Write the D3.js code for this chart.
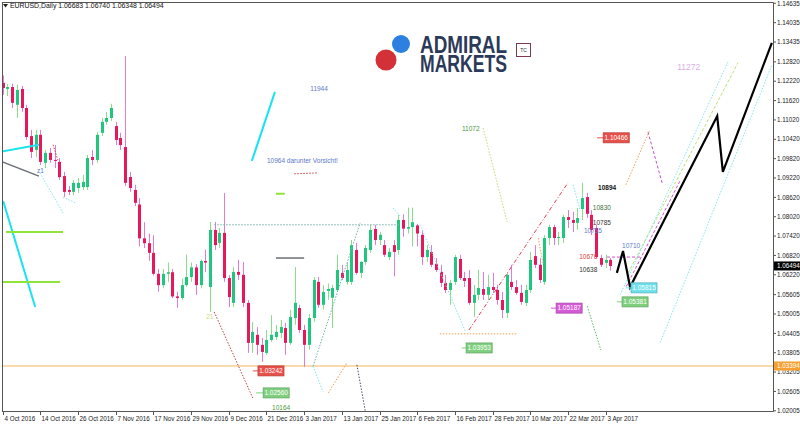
<!DOCTYPE html>
<html><head><meta charset="utf-8">
<script src="https://cdn.jsdelivr.net/npm/d3@7/dist/d3.min.js"></script>
<style>
body{margin:0;background:#fff}
svg{display:block}
text{font-family:"Liberation Sans",Arial,sans-serif}
</style>
</head><body>
<svg id="c" width="800" height="426"></svg>
<script>
// ---------- DATA ----------
const symbolTitle = "EURUSD,Daily  1.06683 1.06740 1.06348 1.06494";
const barOpen = [1.1217,1.1198,1.1204,1.1149,1.1198,1.1139,1.1052,1.1009,1.1056,1.0969,1.1000,1.0978,1.0972,1.0928,1.0885,1.0879,1.0891,1.0894,1.0894,1.0987,1.0978,1.1062,1.1096,1.1108,1.1083,1.1046,1.1018,1.0925,1.0885,1.0840,1.0735,1.0720,1.0690,1.0625,1.0590,1.0625,1.0630,1.0555,1.0550,1.0590,1.0615,1.0645,1.0590,1.0665,1.0584,1.0761,1.0721,1.0752,1.0612,1.0535,1.0631,1.0622,1.0535,1.0411,1.0436,1.0405,1.0380,1.0420,1.0429,1.0442,1.0457,1.0411,1.0488,1.0519,1.0451,1.0405,1.0488,1.0600,1.0529,1.0572,1.0551,1.0575,1.0628,1.0600,1.0600,1.0699,1.0628,1.0662,1.0699,1.0764,1.0730,1.0714,1.0677,1.0714,1.0699,1.0792,1.0765,1.0770,1.0775,1.0746,1.0677,1.0693,1.0656,1.0631,1.0597,1.0575,1.0600,1.0671,1.0612,1.0612,1.0535,1.0560,1.0578,1.0560,1.0584,1.0575,1.0544,1.0504,1.0600,1.0584,1.0566,1.0535,1.0575,1.0680,1.0653,1.0600,1.0736,1.0770,1.0736,1.0736,1.0801,1.0792,1.0783,1.0826,1.0863,1.0808,1.0767,1.0674,1.0659,1.06683];
const barHigh = [1.1240,1.1214,1.1214,1.1211,1.1207,1.1149,1.1071,1.1071,1.1071,1.1009,1.1015,1.1024,1.0984,1.0941,1.0897,1.0916,1.0922,1.0932,1.0994,1.1009,1.1065,1.1108,1.1127,1.1152,1.1096,1.1062,1.1300,1.0941,1.0901,1.0860,1.0785,1.0750,1.0745,1.0640,1.0640,1.0660,1.0640,1.0570,1.0610,1.0685,1.0660,1.0655,1.0670,1.0700,1.0786,1.0786,1.0767,1.0876,1.0621,1.0646,1.0668,1.0662,1.0544,1.0476,1.0460,1.0426,1.0451,1.0497,1.0467,1.0482,1.0473,1.0513,1.0646,1.0529,1.0467,1.0500,1.0615,1.0615,1.0590,1.0595,1.0591,1.0684,1.0653,1.0659,1.0730,1.0721,1.0665,1.0715,1.0777,1.0777,1.0755,1.0730,1.0705,1.0730,1.0808,1.0810,1.0830,1.0830,1.0780,1.0761,1.0714,1.0714,1.0674,1.0653,1.0622,1.0606,1.0684,1.0684,1.0631,1.0637,1.0591,1.0637,1.0631,1.0622,1.0628,1.0591,1.0569,1.0628,1.0653,1.0606,1.0591,1.0591,1.0693,1.0714,1.0674,1.0745,1.0777,1.0777,1.0755,1.0808,1.0823,1.0817,1.0829,1.0907,1.0876,1.0823,1.0777,1.0684,1.0684,1.06740];
const barLow = [1.1180,1.1176,1.1139,1.1108,1.1127,1.1040,1.0984,1.0987,1.0962,1.0953,1.0969,1.0953,1.0916,1.0863,1.0869,1.0869,1.0876,1.0885,1.0885,1.0962,1.0969,1.1052,1.1087,1.1099,1.1024,1.1009,1.0897,1.0879,1.0835,1.0710,1.0705,1.0665,1.0620,1.0570,1.0580,1.0600,1.0550,1.0520,1.0545,1.0585,1.0600,1.0560,1.0580,1.0630,1.0507,1.0699,1.0705,1.0600,1.0522,1.0522,1.0606,1.0522,1.0380,1.0380,1.0374,1.0352,1.0374,1.0414,1.0420,1.0426,1.0374,1.0405,1.0467,1.0442,1.0336,1.0390,1.0476,1.0520,1.0515,1.0545,1.0457,1.0569,1.0606,1.0591,1.0591,1.0622,1.0612,1.0653,1.0690,1.0714,1.0714,1.0677,1.0668,1.0617,1.0684,1.0740,1.0750,1.0710,1.0710,1.0653,1.0662,1.0646,1.0631,1.0584,1.0566,1.0529,1.0591,1.0606,1.0584,1.0529,1.0491,1.0544,1.0544,1.0544,1.0566,1.0529,1.0488,1.0488,1.0575,1.0560,1.0529,1.0525,1.0566,1.0643,1.0597,1.0591,1.0714,1.0714,1.0714,1.0721,1.0767,1.0755,1.0761,1.0792,1.0798,1.0745,1.0674,1.0646,1.0643,1.06348];
const barClose = [1.1201,1.1204,1.1155,1.1195,1.1139,1.1049,1.1003,1.1056,1.0972,1.1000,1.0978,1.0975,1.0925,1.0879,1.0879,1.0907,1.0907,1.0910,1.0984,1.0978,1.1056,1.1096,1.1108,1.1139,1.1040,1.1024,1.0907,1.0891,1.0845,1.0735,1.0720,1.0690,1.0625,1.0590,1.0625,1.0630,1.0555,1.0550,1.0590,1.0615,1.0645,1.0590,1.0665,1.0660,1.0761,1.0714,1.0752,1.0612,1.0553,1.0631,1.0622,1.0535,1.0411,1.0445,1.0405,1.0383,1.0420,1.0436,1.0445,1.0460,1.0411,1.0491,1.0535,1.0451,1.0405,1.0488,1.0606,1.0529,1.0569,1.0578,1.0581,1.0637,1.0612,1.0637,1.0714,1.0628,1.0662,1.0705,1.0761,1.0730,1.0746,1.0684,1.0693,1.0693,1.0792,1.0765,1.0770,1.0785,1.0750,1.0677,1.0699,1.0653,1.0637,1.0597,1.0575,1.0597,1.0677,1.0612,1.0603,1.0535,1.0560,1.0581,1.0560,1.0584,1.0575,1.0544,1.0513,1.0622,1.0584,1.0566,1.0538,1.0575,1.0668,1.0653,1.0606,1.0736,1.0770,1.0736,1.0739,1.0801,1.0792,1.0783,1.0798,1.0860,1.0811,1.0761,1.0677,1.0653,1.0668,1.06494];

const dateTickLabels = ["4 Oct 2016","14 Oct 2016","26 Oct 2016","7 Nov 2016","17 Nov 2016","29 Nov 2016","9 Dec 2016","21 Dec 2016","3 Jan 2017","13 Jan 2017","25 Jan 2017","6 Feb 2017","16 Feb 2017","28 Feb 2017","10 Mar 2017","22 Mar 2017","3 Apr 2017"];
const dateTickBars = [0,8,16,24,32,40,48,56,64,72,80,88,96,104,112,120,128];
const priceTickLabels = ["1.14635","1.14035","1.13435","1.12820","1.12220","1.11620","1.11020","1.10420","1.09820","1.09220","1.08620","1.08020","1.07420","1.06820","1.06220","1.05605","1.05005","1.04405","1.03805","1.03205","1.02605","1.02005"];
const currentPrice = 1.06494;
const supportLevel = 1.03394;

// annotation objects in (bar index, price)
const lines = [
 {k:"cyanSolid", p:[[-0.6,1.1003],[7.7,1.1025]]},
 {k:"graySolid", p:[[-0.6,1.0975],[7.7,1.0928]]},
 {k:"cyanSolid", p:[[0.1,1.0851],[6.9,1.0522]]},
 {k:"cyanDot", p:[[7.9,1.0938],[12.8,1.0814]]},
 {k:"cyanDot", p:[[12.8,1.0863],[15.4,1.0845]]},
 {k:"redDot", p:[[10.7,1.1025],[11.7,1.0978]]},
 {k:"lime", p:[[0.7,1.0755],[12.8,1.0755]]},
 {k:"lime", p:[[-0.2,1.0600],[12.2,1.0600]]},
 {k:"cyanSolid", p:[[52.9,1.0975],[57.8,1.1189]]},
 {k:"redDot", p:[[61.9,1.0935],[66.9,1.0938]]},
 {k:"lime", p:[[58.0,1.0873],[59.9,1.0873]]},
 {k:"graySolid", p:[[58.0,1.0674],[64.0,1.0674]]},
 {k:"tealDot", p:[[44.9,1.0777],[84.4,1.0777]]},
 {k:"brownDot", p:[[44.9,1.0507],[53.1,1.0240]]},
 {k:"cyanDot", p:[[65.9,1.0339],[68.0,1.0259]]},
 {k:"tealDot", p:[[65.9,1.0339],[75.9,1.0783]]},
 {k:"orangeDot", p:[[69.1,1.0256],[73.1,1.0349]]},
 {k:"navyDot", p:[[75.2,1.0343],[77.1,1.0190]]},
 {k:"cyanDot", p:[[82.9,1.0829],[84.4,1.0804]]},
 {k:"ygDot", p:[[102.0,1.1077],[107.1,1.0786]]},
 {k:"cyanDot", p:[[88.6,1.0777],[98.2,1.0448]]},
 {k:"orangeDot", p:[[92.8,1.0439],[109.2,1.0439]]},
 {k:"redDashDot", p:[[99.0,1.0451],[120.0,1.0907]]},
 {k:"cyanDot", p:[[121.1,1.0901],[122.6,1.0823]]},
 {k:"orangeDot", p:[[113.7,1.0736],[114.7,1.0659]]},
 {k:"greenDot", p:[[124.1,1.0525],[127.0,1.0389]]},
 {k:"magentaDash", p:[[128.3,1.0677],[135.3,1.0677]]},
 {k:"ygDash", p:[[132.8,1.0628],[156.1,1.1279]]},
 {k:"cyanDot", p:[[131.1,1.0560],[154.0,1.1282]]},
 {k:"cyanDot", p:[[139.6,1.0412],[163.3,1.1272]]},
 {k:"magentaDash", p:[[132.4,1.0586],[143.8,1.0913]]},
 {k:"violetDash", p:[[137.0,1.1065],[140.0,1.0907]]},
 {k:"orangeDot", p:[[132.3,1.0901],[137.4,1.1071]]},
 {k:"blackPath", p:[[130.4,1.0628],[131.7,1.0696],[133.2,1.0584],[151.7,1.1114],[152.9,1.0941],[163.3,1.1341]]}
];
const notes = [
 {t:"z1", i:7.3, v:1.0944, k:"blue"},
 {t:"11944", i:65.3, v:1.1198, k:"blue"},
 {t:"10964  darunter Vorsicht!", i:56.1, v:1.0975, k:"blue"},
 {t:"21", i:43.2, v:1.0491, k:"yg"},
 {t:"10164", i:57.2, v:1.0209, k:"green"},
 {t:"11072", i:97.5, v:1.1074, k:"green"},
 {t:"10894", i:126.4, v:1.0891, k:"black"},
 {t:"10830", i:125.3, v:1.0829, k:"dgreen"},
 {t:"10785", i:125.3, v:1.0783, k:"dgray"},
 {t:"10755", i:123.4, v:1.0758, k:"blue"},
 {t:"10710", i:131.5, v:1.0711, k:"blue"},
 {t:"10676", i:122.4, v:1.0677, k:"red"},
 {t:"10638", i:122.4, v:1.0637, k:"dgray"},
 {t:"11272", i:143.2, v:1.1266, k:"lilac"}
];
const priceTags = [
 {v:1.03242, from:53.1, at:54.2, k:"red"},
 {v:1.02560, from:53.8, at:55.3, k:"green"},
 {v:1.03953, from:97.5, at:98.4, k:"green"},
 {v:1.05187, from:116.4, at:117.5, k:"magenta"},
 {v:1.10466, from:126.2, at:127.5, k:"red"},
 {v:1.05815, from:132.3, at:133.4, k:"cyan"},
 {v:1.05381, from:130.4, at:131.5, k:"green"}
];

// ---------- STYLES ----------
const lineStyle = {
 cyanSolid:{c:"#19e3ef",w:2,d:null},
 graySolid:{c:"#6b7078",w:1.5,d:null},
 lime:{c:"#8fe43a",w:2,d:null},
 cyanDot:{c:"#7fe6f0",w:1,d:"1.5,1.5"},
 redDot:{c:"#d0403a",w:1,d:"1.5,1.5"},
 brownDot:{c:"#b04a3a",w:1,d:"1.5,1.5"},
 tealDot:{c:"#6fb0a8",w:1,d:"1.5,1.5"},
 orangeDot:{c:"#f0a050",w:1,d:"1.5,1.5"},
 navyDot:{c:"#4a4a7a",w:1,d:"1.5,1.5"},
 ygDot:{c:"#c8dc70",w:1,d:"1.5,1.5"},
 greenDot:{c:"#5cb85c",w:1,d:"1.5,1.5"},
 redDashDot:{c:"#e04050",w:1,d:"4,2,1,2"},
 magentaDash:{c:"#d050d0",w:1,d:"3,2"},
 violetDash:{c:"#c050d0",w:1,d:"3,2"},
 ygDash:{c:"#b8e070",w:1,d:"3,2"},
 blackPath:{c:"#000",w:2.2,d:null}
};
const textColor = {blue:"#5c78c8",yg:"#c8dc78",green:"#4a9a3a",black:"#111",dgreen:"#3d6e3d",dgray:"#333",red:"#e03a3a",lilac:"#deb0e6"};
const tagColor = {red:"#e8504a",green:"#7ecf7e",magenta:"#d55ad5",cyan:"#6fe0ec"};

// ---------- CHART ----------
(function(){
const svg = d3.select("#c");
const W=800,H=426, pL=2, pR=773, pT=2.5, pB=411;
svg.append("rect").attr("width",W).attr("height",H).attr("fill","#fff");

const x = d3.scaleLinear().domain([0,129]).range([2.7, 2.7+4.71*129]);
const y = d3.scaleLinear().domain([1.02005,1.14635]).range([410.8,3.3]);

svg.append("defs").append("clipPath").attr("id","plot")
  .append("rect").attr("x",pL).attr("y",pT).attr("width",pR-pL).attr("height",pB-pT);
const g = svg.append("g").attr("clip-path","url(#plot)");

g.append("line").attr("x1",pL).attr("x2",pR)
 .attr("y1",y(supportLevel)).attr("y2",y(supportLevel))
 .attr("stroke","#f2b55a").attr("stroke-width",1);

const bars = d3.range(barOpen.length).map(i=>({i,o:barOpen[i],h:barHigh[i],l:barLow[i],c:barClose[i]}));
const cg = g.append("g");
bars.forEach(b=>{
  const up = b.c>=b.o;
  const cx = Math.round(x(b.i));
  cg.append("line").attr("x1",cx+0.5).attr("x2",cx+0.5)
    .attr("y1",y(b.h)).attr("y2",y(b.l))
    .attr("stroke", up? "#86e08a":"#e47ad8").attr("stroke-width",1);
  const y0=y(Math.max(b.o,b.c)), y1=y(Math.min(b.o,b.c));
  cg.append("rect").attr("x",cx-1).attr("width",3)
    .attr("y",y0).attr("height",Math.max(1,y1-y0))
    .attr("fill", up? "#1fc77e":"#e8175a");
});

const lg = d3.line().x(d=>x(d[0])).y(d=>y(d[1]));
lines.forEach(L=>{
  const s=lineStyle[L.k];
  g.append("path").attr("d",lg(L.p)).attr("fill","none")
   .attr("stroke",s.c).attr("stroke-width",s.w)
   .attr("stroke-dasharray",s.d).attr("stroke-linejoin","miter");
});

notes.forEach(n=>{
  g.append("text").attr("x",x(n.i)).attr("y",y(n.v)).attr("dy","0.35em")
   .attr("font-size", n.k==="lilac"?8.5:6.5).attr("fill",textColor[n.k])
   .attr("font-weight", n.k==="black"?"bold":"normal")
   .text(n.t);
});

priceTags.forEach(t=>{
  const yy=y(t.v), x0=x(t.from), x1=x(t.at), col=tagColor[t.k];
  g.append("line").attr("x1",x0).attr("x2",x1).attr("y1",yy).attr("y2",yy).attr("stroke",col).attr("stroke-width",1);
  g.append("rect").attr("x",x1).attr("y",yy-5).attr("width",26).attr("height",10)
   .attr("fill",col).attr("stroke",d3.color(col).darker(0.6)).attr("stroke-width",0.8);
  g.append("text").attr("x",x1+13).attr("y",yy).attr("dy","0.35em").attr("text-anchor","middle")
   .attr("font-size",6.5).attr("fill","#fff").text(t.v.toFixed(5));
});

svg.append("path").attr("d",`M${pL+0.5},${pB+0.5}V${pT}M${pL},${pT}H${pR+0.5}V${pB+0.5}H${pL}`)
 .attr("fill","none").attr("stroke","#555").attr("stroke-width",1);

const ax = svg.append("g");
priceTickLabels.forEach(t=>{
  const yy=y(+t);
  ax.append("line").attr("x1",pR).attr("x2",pR+3).attr("y1",yy).attr("y2",yy).attr("stroke","#555");
  ax.append("text").attr("x",pR+4).attr("y",yy).attr("dy","0.35em").attr("font-size",6.3).attr("fill","#222").text(t);
});
[[currentPrice,"#000"],[supportLevel,"#f5a030"]].forEach(([v,c])=>{
  const yy=y(v);
  ax.append("rect").attr("x",pR+1).attr("y",yy-4.5).attr("width",26).attr("height",9).attr("fill",c);
  ax.append("text").attr("x",pR+4).attr("y",yy).attr("dy","0.35em").attr("font-size",6.3).attr("fill","#fff").text(v.toFixed(5));
});

dateTickBars.forEach((b,k)=>{
  const xx=Math.round(x(b))+0.5;
  ax.append("line").attr("x1",xx).attr("x2",xx).attr("y1",pB).attr("y2",pB+4).attr("stroke","#555");
  ax.append("text").attr("x",xx+1).attr("y",421).attr("font-size",6.3).attr("fill","#222").text(dateTickLabels[k]);
});

svg.append("path").attr("d","M3,4H8L5.5,7.5Z").attr("fill","#222");
svg.append("text").attr("x",10).attr("y",8.2).attr("font-size",6.9).attr("fill","#111").text(symbolTitle);

const logo = svg.append("g");
logo.append("circle").attr("cx",401).attr("cy",44).attr("r",9).attr("fill","#2d7fe0");
logo.append("circle").attr("cx",386).attr("cy",60).attr("r",10.5).attr("fill","#d33137");
const lt = logo.append("text").attr("transform","translate(420,53) scale(0.8,1)")
 .attr("font-size",24).attr("font-weight","bold").attr("fill","#2c3a5a");
lt.append("tspan").attr("x",0).attr("y",0).attr("textLength",108.75).attr("lengthAdjust","spacingAndGlyphs").text("ADMIRAL");
lt.append("tspan").attr("x",0).attr("y",18.5).attr("textLength",108.75).attr("lengthAdjust","spacingAndGlyphs").text("MARKETS");
logo.append("rect").attr("x",516.5).attr("y",43.5).attr("width",14).attr("height",13).attr("fill","#fff").attr("stroke","#7a3a50");
logo.append("text").attr("x",523.5).attr("y",50).attr("dy","0.35em").attr("text-anchor","middle").attr("font-size",5).attr("fill","#333").text("TC");
})();
</script>
</body></html>
